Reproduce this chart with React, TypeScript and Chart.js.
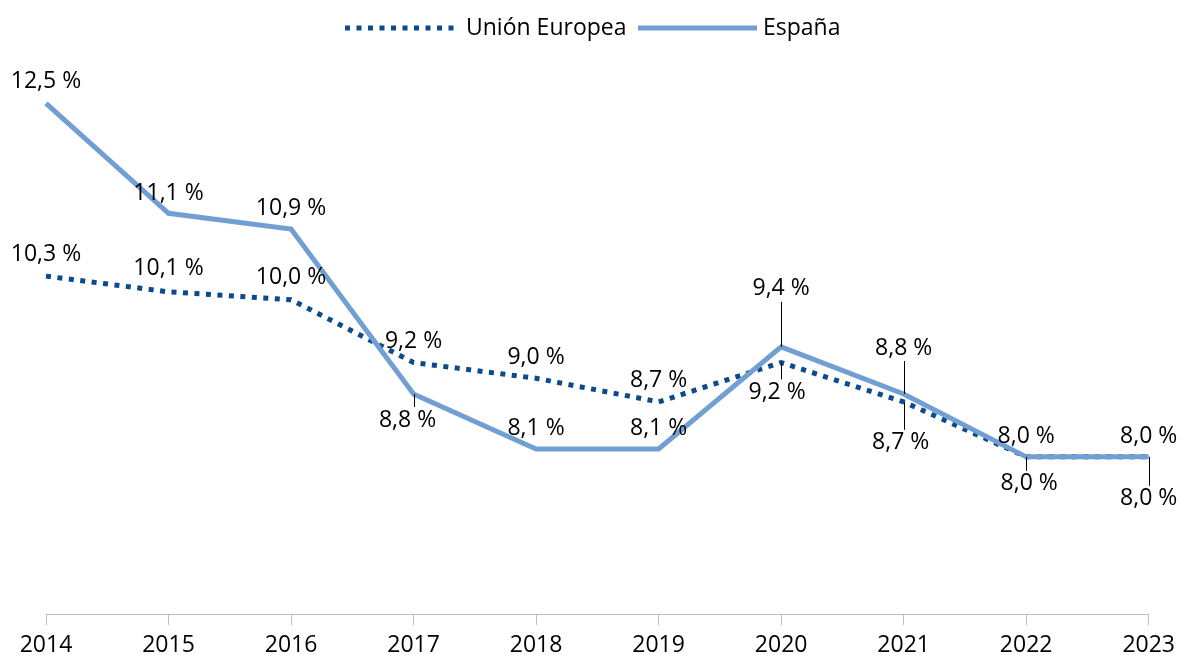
import React, { useEffect, useRef } from "react";
import { Chart, registerables } from "chart.js";

Chart.register(...registerables);

const years = ["2014", "2015", "2016", "2017", "2018", "2019", "2020", "2021", "2022", "2023"];
const ueValues = [10.3, 10.1, 10.0, 9.2, 9.0, 8.7, 9.2, 8.7, 8.0, 8.0];
const esValues = [12.5, 11.1, 10.9, 8.8, 8.1, 8.1, 9.4, 8.8, 8.0, 8.0];
const seriesNames = ["Unión Europea", "España"];

// label placement (dx, dy from point to text centre)
const ueLabelPlacement = [[0, -22], [0, -23], [0, -22], [0, -21], [0, -21], [0, -21], [-4, 30], [-3, 41], [3, 27], [0, 42]];
const esLabelPlacement = [[0, -22], [0, -20], [0, -21], [-6, 26], [0, -21], [0, -21], [0, -58], [0, -46], [0, -20], [0, -20]];

const FONT = "'Open Sans', sans-serif";
const UE_COLOR = "#0b4a8b";
const ES_COLOR = "#729fd3";
const UE_DASH = [5, 6.5];

const fmt = (v: number) => v.toFixed(1).replace(".", ",") + " %";

const labelsPlugin = {
  id: "valueLabels",
  afterDatasetsDraw(chart: any) {
    const ctx = chart.ctx;
    ctx.save();
    ctx.font = `23px ${FONT}`;
    ctx.fillStyle = "#000";
    ctx.textAlign = "center";
    ctx.textBaseline = "middle";
    const placements = [ueLabelPlacement, esLabelPlacement];
    chart.data.datasets.forEach((ds: any, di: number) => {
      const meta = chart.getDatasetMeta(di);
      meta.data.forEach((pt: any, i: number) => {
        const [dx, dy] = placements[di][i];
        const x = pt.x;
        const y = pt.y;
        const ty = y + dy;
        if (Math.abs(dy) > 24) {
          const edge = dy > 0 ? ty - 13 : ty + 13;
          ctx.beginPath();
          ctx.strokeStyle = "#000";
          ctx.lineWidth = 1;
          ctx.moveTo(Math.round(x) + 0.5, y);
          ctx.lineTo(Math.round(x) + 0.5, edge);
          ctx.stroke();
        }
        ctx.fillText(fmt(ds.data[i]), x + dx, ty);
      });
    });
    ctx.restore();
  },
};

const legendPlugin = {
  id: "customLegend",
  afterDraw(chart: any) {
    const ctx = chart.ctx;
    ctx.save();
    const y = 28;
    ctx.lineWidth = 5;
    ctx.lineCap = "butt";
    ctx.strokeStyle = UE_COLOR;
    ctx.setLineDash(UE_DASH);
    ctx.beginPath();
    ctx.moveTo(345, y);
    ctx.lineTo(457, y);
    ctx.stroke();
    ctx.setLineDash([]);
    ctx.strokeStyle = ES_COLOR;
    ctx.beginPath();
    ctx.moveTo(638, y);
    ctx.lineTo(757, y);
    ctx.stroke();
    ctx.font = `23px ${FONT}`;
    ctx.fillStyle = "#000";
    ctx.textAlign = "left";
    ctx.textBaseline = "middle";
    ctx.fillText(seriesNames[0], 466, y);
    ctx.fillText(seriesNames[1], 763, y);
    ctx.restore();
  },
};

export default function App() {
  const ref = useRef<HTMLCanvasElement | null>(null);
  useEffect(() => {
    if (!ref.current) return;
    const chart = new Chart(ref.current, {
      type: "line",
      data: {
        labels: years,
        datasets: [
          {
            label: seriesNames[0],
            data: ueValues,
            borderColor: UE_COLOR,
            borderWidth: 5,
            borderDash: UE_DASH,
            borderCapStyle: "butt",
            pointRadius: 0,
            tension: 0,
            fill: false,
            order: 2,
          },
          {
            label: seriesNames[1],
            data: esValues,
            borderColor: ES_COLOR,
            borderWidth: 5,
            pointRadius: 0,
            tension: 0,
            fill: false,
            order: 1,
          },
        ],
      },
      options: {
        animation: false,
        responsive: false,
        layout: { padding: { left: 46, right: 32, top: 64, bottom: 0 } },
        plugins: { legend: { display: false }, tooltip: { enabled: false } },
        scales: {
          x: {
            offset: false,
            grid: { display: true, drawOnChartArea: false, drawTicks: true, tickLength: 11, color: "#bfbfbf", lineWidth: 1 },
            border: { display: true, color: "#bfbfbf", width: 1 },
            ticks: { font: { family: FONT, size: 23 }, color: "#000", padding: 7, maxRotation: 0, autoSkip: false },
            afterFit: (scale: any) => {
              scale.height = 41;
            },
          },
          y: { display: false, min: 6, max: 13 },
        },
      },
      plugins: [labelsPlugin, legendPlugin],
    });
    return () => chart.destroy();
  }, []);
  return (
    <div style={{ position: "fixed", left: 0, top: 0, width: 1182, height: 655, background: "#fff" }}>
      <canvas ref={ref} width={1182} height={655} />
    </div>
  );
}
